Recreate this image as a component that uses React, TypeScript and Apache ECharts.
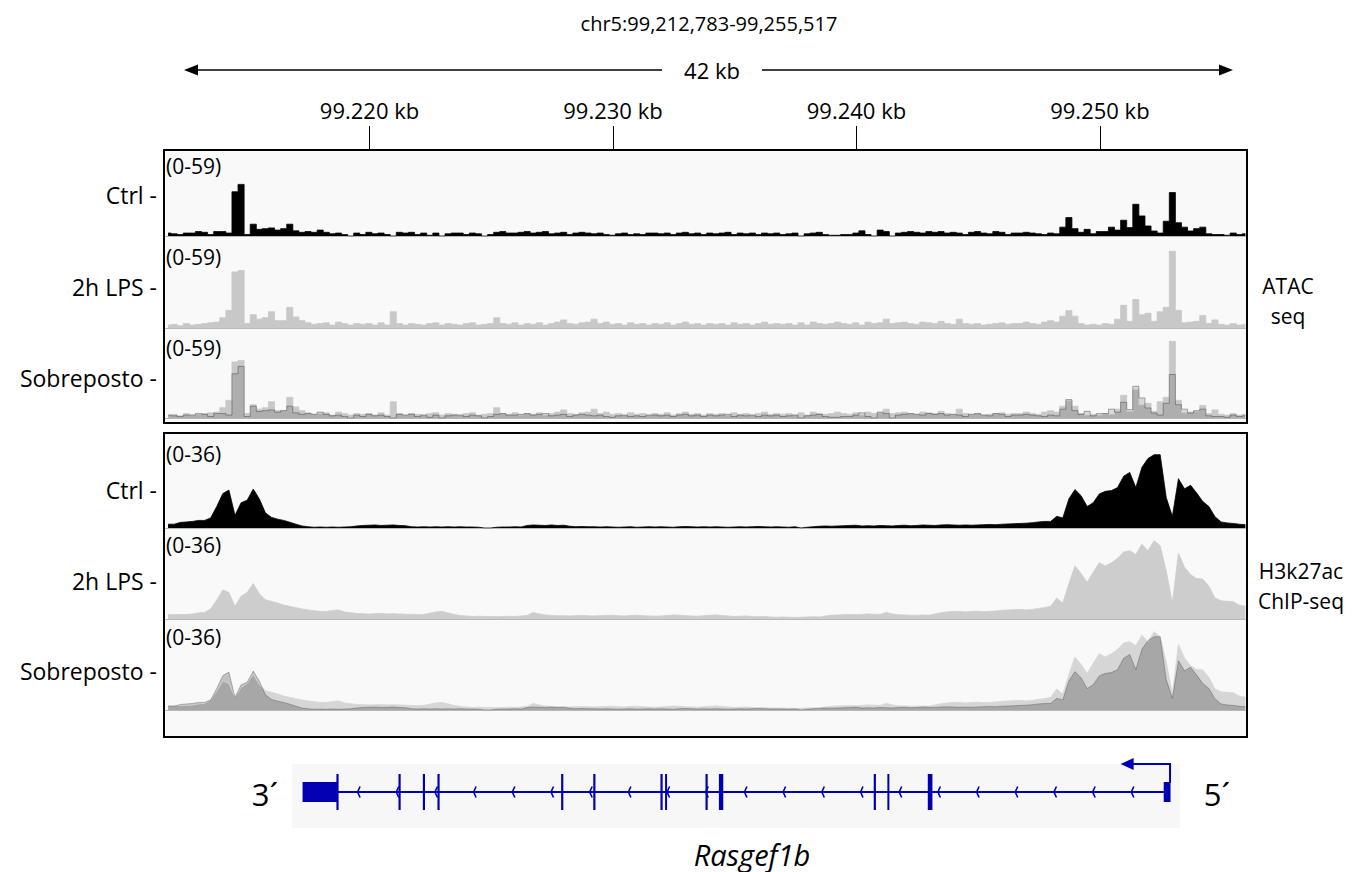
import React, { useEffect, useRef } from 'react';
import * as echarts from 'echarts';

// ---------------- data ----------------
const REGION_TITLE = 'chr5:99,212,783-99,255,517';
const SPAN_LABEL = '42 kb';
const X_MIN = 99211.6; // kb
const X_MAX = 99256.0; // kb
const BIN_KB = 0.25;
const RULER_TICKS = [99220, 99230, 99240, 99250];
const TRACK_NAMES = ['Ctrl -', '2h LPS -', 'Sobreposto -'];
const ATAC_RANGE = 59;
const H3_RANGE = 36;
const ATAC_RANGE_LABEL = '(0-59)';
const H3_RANGE_LABEL = '(0-36)';
const ATAC_GROUP = ['ATAC', 'seq'];
const H3_GROUP = ['H3k27ac', 'ChIP-seq'];

const ATAC_CTRL = [
  2, 1.5, 1, 2, 2, 3, 2.5, 1, 3, 3,
  2, 30, 35, 1, 8, 4.5, 5, 5.5, 4, 5,
  8, 3.5, 2.5, 3, 2.5, 4, 2.5, 1.5, 2, 1,
  0, 2, 1, 2.5, 1.5, 2, 1, 0, 2.5, 2,
  2.5, 1, 2, 0.5, 2, 0, 1.5, 2, 2, 1,
  2, 1.5, 0, 1, 2.5, 3, 2, 2, 2.5, 3,
  2, 2.5, 3, 1.5, 2, 2.5, 1, 2, 2.5, 2,
  1.5, 2, 1, 0.5, 1.5, 2, 1, 1.5, 1, 2,
  2, 1.5, 2, 1, 2, 2.5, 1.5, 2, 1, 2,
  1.5, 2, 2.5, 1, 2, 1.5, 2, 1, 2, 1.5,
  2, 1, 1.5, 2, 0, 1.5, 2, 2.5, 1, 0.5,
  0.5, 1, 1, 2, 3.5, 1, 0, 4, 3, 0,
  2, 2.5, 3, 2.5, 2, 3, 2.5, 3, 2, 2.5,
  2, 1, 2.5, 3, 2, 1.5, 3, 2.5, 1, 2,
  2, 2.5, 2, 1.5, 1, 2, 1.5, 6, 12.5, 5,
  2.5, 4.5, 1.5, 3, 3, 6, 4, 10.7, 5.7, 21.5,
  13.6, 6.8, 3.4, 2, 10, 29.5, 9, 6, 3.4, 5,
  6, 1.5, 1, 1, 0.5, 2, 1, 1.5,
];

const ATAC_LPS = [
  2, 2.5, 1.5, 3, 2, 2.5, 3, 3.5, 4, 7,
  12, 38, 39, 3, 9, 6, 7, 11, 5, 5,
  14, 7.5, 5, 3.5, 2.5, 3, 3.5, 2, 4, 3,
  2, 3, 2.5, 3, 2, 3.5, 2, 11, 3, 2,
  3, 2.5, 2, 3, 3.5, 2, 3, 2.5, 2, 3,
  3.5, 2, 2.5, 3, 7, 3, 2.5, 3.5, 2, 3,
  2.5, 3.5, 2, 3, 4, 5.5, 3, 2.5, 3.5, 4,
  6, 3, 4, 2.5, 3, 2, 3.5, 2.5, 3, 2,
  3, 2.5, 3.5, 2, 3, 4, 2.5, 3, 2, 3,
  2.5, 3, 2, 3.5, 2.5, 3, 2, 3, 4, 2.5,
  3, 2.5, 3, 2, 3.5, 2, 4, 3, 2.5, 3,
  4, 3, 2.5, 3.5, 2, 4, 3, 3.5, 6, 3,
  3.5, 4, 3, 2.5, 4, 3.5, 3, 4.5, 3, 2.5,
  6, 3, 2.5, 3, 2, 2.5, 3, 3.5, 2.5, 3,
  3, 4, 3, 2.5, 4, 5, 4, 8, 11.8, 8,
  3, 2, 2.5, 2, 3, 2.5, 6, 15.4, 4.5, 19.3,
  9, 10, 4.5, 11, 14, 52, 12, 3.5, 4, 4.5,
  8.5, 3, 5.5, 2.5, 2, 3, 2, 2.5,
];

const H3_CTRL = [
  1.5, 1.5, 2.2, 2.4, 2.6, 3, 3, 4, 8.5, 13.6,
  15, 5, 10, 11, 15.4, 11.5, 6, 4.2, 3.5, 3,
  2.3, 1.5, 0.8, 0.5, 0.3, 0.4, 0.3, 0.4, 0.3, 0.4,
  0.5, 0.8, 1, 1.1, 1.2, 1, 1.1, 1.2, 1, 0.9,
  0.5, 0.4, 0.5, 0.4, 0.5, 0.4, 0.5, 0.4, 0.5, 0.4,
  0.4, 0.3, 0, 0, 0.3, 0.4, 0.4, 0.5, 0.4, 1,
  1.2, 1.1, 1, 1.2, 1, 1.1, 0.7, 0.5, 0.6, 0.5,
  0.5, 0.4, 0.5, 0.4, 0.3, 0.4, 0.5, 0.3, 0.4, 0.5,
  0.4, 0.5, 0.4, 0.3, 0.5, 0.6, 0.5, 0.4, 0.5, 0.4,
  0.5, 0.4, 0.3, 0.4, 0.5, 0.4, 0.5, 0.6, 0.5, 0.4,
  0.5, 0.4, 0.3, 0.5, 0, 0.3, 0.5, 0.7, 0.8, 0.7,
  0.8, 0.9, 1, 1.1, 0.8, 0.9, 0.8, 1, 0.9, 0.8,
  1, 1.1, 0.9, 1, 1.2, 1.1, 1, 1.2, 1.3, 1.2,
  1.1, 1.2, 1.1, 1.2, 1.3, 1.4, 1.3, 1.5, 1.6, 1.7,
  1.8, 1.9, 2.1, 2.4, 2.6, 2.6, 4.6, 4, 11.5, 15.2,
  12.8, 8.5, 10, 13.5, 14.5, 14.8, 16, 20.5, 22, 16,
  24, 27.5, 29, 29, 12, 4.6, 19.5, 15.5, 16.9, 13.8,
  10.5, 8.5, 4.5, 2.4, 2, 1.8, 1.5, 1.3,
];

const H3_LPS = [
  1.7, 1.7, 1.8, 1.8, 2, 2.4, 2.6, 4, 7.5, 11.5,
  10.5, 5, 9, 10.5, 14, 10, 7.6, 7, 6.3, 5.5,
  5, 4.5, 4, 3.6, 3.3, 3, 3, 3.4, 3.6, 2.8,
  2.5, 2.2, 2.1, 2, 2.1, 2.2, 2, 2.1, 2, 1.9,
  1.8, 1.7, 1.8, 2.3, 2.8, 3, 2.4, 1.8, 1.4, 1.2,
  1, 1.1, 1, 1, 0.9, 1, 1.1, 1, 1.2, 1.4,
  2.6, 2, 1.6, 1.4, 1.3, 1.3, 1.2, 1.3, 1.4, 1.3,
  1.2, 1.3, 1.4, 1.5, 1.3, 1.2, 1.4, 1.5, 1.3, 1.2,
  1.1, 1.2, 1.4, 1.6, 1.5, 1.3, 1.2, 1.1, 1.3, 1.5,
  1.6, 1.4, 1.2, 1, 1.1, 1.2, 1, 0.9, 1, 0.8,
  0.7, 0.8, 0.7, 0.6, 0.7, 0.8, 0.9, 0.8, 1.2, 1.5,
  1.6, 1.7, 1.8, 1.7, 1.8, 2, 1.9, 1.8, 2.6, 2,
  1.7, 1.6, 1.5, 1.5, 1.6, 1.5, 2, 2.5, 2.8, 3,
  3, 2.8, 3, 3.1, 2.9, 3, 3.2, 3.4, 3.6, 3.7,
  3.8, 3.6, 3.8, 4.2, 4.5, 5, 8.3, 6.3, 14, 21,
  18, 14.5, 18.5, 22.3, 21, 22.3, 24, 26.5, 27, 25.5,
  29.6, 27, 31, 29, 19, 6.3, 26, 20.5, 17.5, 16,
  15.8, 13, 8.3, 7.2, 7, 6.8, 5.5, 5,
];

// Gene model (kb): [start, end, tall(1)=coding / 0=UTR]
const GENE_NAME = 'Rasgef1b';
const GENE_EXONS = [
  [99217.25, 99218.7, 0],
  [99218.64, 99218.73, 1],
  [99221.19, 99221.28, 1],
  [99222.19, 99222.28, 1],
  [99222.79, 99222.88, 1],
  [99227.87, 99227.96, 1],
  [99229.19, 99229.28, 1],
  [99231.95, 99232.04, 1],
  [99232.14, 99232.22, 1],
  [99233.8, 99233.89, 1],
  [99234.35, 99234.53, 1],
  [99240.71, 99240.8, 1],
  [99241.27, 99241.35, 1],
  [99242.93, 99243.12, 1],
  [99252.62, 99252.9, 0],
];
const GENE_INTRON = [99218.7, 99252.7];
const GENE_TSS = [99252.88, 99250.85]; // TSS, arrow tip
const CHEVRON_START = 99219.51;
const CHEVRON_STEP = 1.589;
const END_LABELS = ['3´', '5´'];

// ---------------- styles ----------------
const FONT = '"Open Sans", "Noto Sans", "DejaVu Sans", sans-serif';
const GENE_BLUE = '#0000b2';
const LIGHT = '#c8c8c8';
const H3_LIGHT = '#cdcdcd';
const BASELINE = '#b8b8b8';

const toPairs = (vals: number[]) => vals.map((v, i) => [X_MIN + BIN_KB * (i + 0.5), v]);

const GRID_LEFT = 165;
const GRID_W = 1081;
const GRIDS = [
  { top: 149, height: 87 },
  { top: 241, height: 87 },
  { top: 331, height: 87 },
  { top: 437, height: 91 },
  { top: 528, height: 91 },
  { top: 619, height: 91 },
  { top: 760, height: 64 },
];

function text(x: number, y: number, t: string, size: number, align = 'left', extra: any = {}) {
  return {
    type: 'text',
    x,
    y,
    z: 60,
    style: {
      text: t,
      fill: '#000',
      fontSize: size,
      fontFamily: FONT,
      align,
      verticalAlign: 'middle',
      textAlign: align,
      textVerticalAlign: 'middle',
      ...extra,
    },
  };
}

export default function App() {
  const ref = useRef<HTMLDivElement>(null);
  useEffect(() => {
    if (!ref.current) return;
    document.body.style.margin = '0';
    const chart = echarts.init(ref.current, undefined, { renderer: 'svg' });

    const xAxes: any[] = GRIDS.map((_, i) => ({
      type: 'value',
      gridIndex: i,
      min: X_MIN,
      max: X_MAX,
      position: 'bottom',
      axisLine: { show: i < 6, onZero: false, lineStyle: { color: BASELINE, width: 1.2 } },
      axisTick: { show: false },
      axisLabel: { show: false },
      splitLine: { show: false },
    }));
    xAxes.push({
      type: 'value',
      gridIndex: 0,
      min: X_MIN,
      max: X_MAX,
      position: 'top',
      axisLine: { show: false, onZero: false },
      axisTick: { show: true, length: 23, inside: false, customValues: RULER_TICKS, lineStyle: { color: '#000', width: 1 } },
      axisLabel: {
        show: true,
        customValues: RULER_TICKS,
        margin: 28,
        fontSize: 22,
        fontFamily: FONT,
        color: '#000',
        formatter: (v: number) => (v / 1000).toFixed(3) + ' kb',
      },
      splitLine: { show: false },
    });
    const yAxes = GRIDS.map((_, i) => ({
      type: 'value',
      gridIndex: i,
      min: 0,
      max: i < 3 ? ATAC_RANGE : i < 6 ? H3_RANGE : 1,
      show: false,
    }));

    const area = (idx: number, data: number[], color: string, step: boolean, fill?: string, lineColor?: string) => ({
      type: 'line',
      xAxisIndex: idx,
      yAxisIndex: idx,
      data: toPairs(data),
      step: step ? 'middle' : false,
      showSymbol: false,
      symbol: 'none',
      silent: true,
      itemStyle: { color },
      lineStyle: { color: lineColor || color, width: 0.8 },
      areaStyle: { color: fill || color, opacity: 1 },
    });

    const series: any[] = [
      area(0, ATAC_CTRL, '#000', true),
      area(1, ATAC_LPS, LIGHT, true),
      area(2, ATAC_LPS, LIGHT, true),
      area(2, ATAC_CTRL, 'rgba(0,0,0,0.15)', true, 'rgba(0,0,0,0.13)', 'rgba(0,0,0,0.4)'),
      area(3, H3_CTRL, '#000', false),
      area(4, H3_LPS, H3_LIGHT, false),
      area(5, H3_LPS, '#d6d6d6', false),
      area(5, H3_CTRL, 'rgba(0,0,0,0.22)', false, 'rgba(0,0,0,0.22)', 'rgba(0,0,0,0.3)'),
      {
        type: 'custom',
        xAxisIndex: 6,
        yAxisIndex: 6,
        silent: true,
        data: [GENE_INTRON],
        renderItem: (_p: any, api: any) => {
          const a = api.coord([api.value(0), 0.5]);
          const b = api.coord([api.value(1), 0.5]);
          const children: any[] = [
            { type: 'line', shape: { x1: a[0], y1: a[1], x2: b[0], y2: b[1] }, style: { stroke: GENE_BLUE, lineWidth: 2 } },
          ];
          for (let p = CHEVRON_START; p < api.value(1) - 0.3; p += CHEVRON_STEP) {
            const c = api.coord([p, 0.5]);
            children.push({
              type: 'polyline',
              shape: { points: [[c[0] + 2.5, c[1] - 5.5], [c[0], c[1]], [c[0] + 2.5, c[1] + 5.5]] },
              style: { stroke: GENE_BLUE, lineWidth: 1.6, fill: 'none' },
            });
          }
          return { type: 'group', children };
        },
      },
      {
        type: 'custom',
        xAxisIndex: 6,
        yAxisIndex: 6,
        silent: true,
        data: GENE_EXONS,
        renderItem: (_p: any, api: any) => {
          const s = api.coord([api.value(0), 0.5]);
          const e = api.coord([api.value(1), 0.5]);
          const h = api.value(2) ? 36 : 20;
          return {
            type: 'rect',
            shape: { x: s[0], y: s[1] - h / 2, width: Math.max(e[0] - s[0], 2), height: h },
            style: { fill: GENE_BLUE },
          };
        },
      },
      {
        type: 'custom',
        xAxisIndex: 6,
        yAxisIndex: 6,
        silent: true,
        data: [GENE_TSS],
        renderItem: (_p: any, api: any) => {
          const t = api.coord([api.value(0), 0.5]);
          const tip = api.coord([api.value(1), 0.5]);
          const top = t[1] - 28;
          return {
            type: 'group',
            children: [
              {
                type: 'polyline',
                shape: { points: [[t[0], t[1] - 9], [t[0], top], [tip[0] + 12, top]] },
                style: { stroke: GENE_BLUE, lineWidth: 2, fill: 'none' },
              },
              {
                type: 'polygon',
                shape: { points: [[tip[0], top], [tip[0] + 13, top - 6], [tip[0] + 13, top + 6]] },
                style: { fill: GENE_BLUE },
              },
            ],
          };
        },
      },
    ];

    const graphic: any[] = [
      { type: 'rect', z: -5, shape: { x: 164, y: 150, width: 1083, height: 273 }, style: { fill: '#f9f9f9' } },
      { type: 'rect', z: -5, shape: { x: 164, y: 433, width: 1083, height: 304 }, style: { fill: '#f9f9f9' } },
      { type: 'rect', z: -5, shape: { x: 292, y: 764, width: 888, height: 64 }, style: { fill: '#f7f7f7' } },
      { type: 'rect', z: 50, shape: { x: 164, y: 150, width: 1083, height: 273 }, style: { fill: 'none', stroke: '#000', lineWidth: 2 } },
      { type: 'rect', z: 50, shape: { x: 164, y: 433, width: 1083, height: 304 }, style: { fill: 'none', stroke: '#000', lineWidth: 2 } },
      // span arrow
      { type: 'line', shape: { x1: 195, y1: 70, x2: 662, y2: 70 }, style: { stroke: '#000', lineWidth: 1.3 } },
      { type: 'line', shape: { x1: 762, y1: 70, x2: 1222, y2: 70 }, style: { stroke: '#000', lineWidth: 1.3 } },
      { type: 'polygon', shape: { points: [[184, 70], [198, 64.5], [198, 75.5]] }, style: { fill: '#000' } },
      { type: 'polygon', shape: { points: [[1233, 70], [1219, 64.5], [1219, 75.5]] }, style: { fill: '#000' } },
      text(709, 23, REGION_TITLE, 20, 'center'),
      text(712, 70, SPAN_LABEL, 22, 'center'),
      // left labels
      text(157, 195, TRACK_NAMES[0], 23, 'right'),
      text(157, 287, TRACK_NAMES[1], 23, 'right'),
      text(157, 378, TRACK_NAMES[2], 23, 'right'),
      text(157, 490, TRACK_NAMES[0], 23, 'right'),
      text(157, 581, TRACK_NAMES[1], 23, 'right'),
      text(157, 671, TRACK_NAMES[2], 23, 'right'),
      // range labels
      text(166, 166, ATAC_RANGE_LABEL, 21),
      text(166, 257, ATAC_RANGE_LABEL, 21),
      text(166, 348, ATAC_RANGE_LABEL, 21),
      text(166, 454, H3_RANGE_LABEL, 21),
      text(166, 545, H3_RANGE_LABEL, 21),
      text(166, 637, H3_RANGE_LABEL, 21),
      // right labels
      text(1288, 286, ATAC_GROUP[0], 21, 'center'),
      text(1288, 316, ATAC_GROUP[1], 21, 'center'),
      text(1301, 571, H3_GROUP[0], 21, 'center'),
      text(1301, 601, H3_GROUP[1], 21, 'center'),
      // gene
      text(265, 794, END_LABELS[0], 31, 'center'),
      text(1217, 794, END_LABELS[1], 31, 'center'),
      text(752, 854, GENE_NAME, 29, 'center', { fontStyle: 'italic' }),
    ];

    chart.setOption({
      animation: false,
      backgroundColor: '#ffffff',
      grid: GRIDS.map((g) => ({ left: GRID_LEFT, width: GRID_W, top: g.top, height: g.height, containLabel: false })),
      xAxis: xAxes,
      yAxis: yAxes,
      series,
      graphic,
    });
    return () => chart.dispose();
  }, []);

  return <div ref={ref} style={{ width: 1368, height: 872 }} />;
}
